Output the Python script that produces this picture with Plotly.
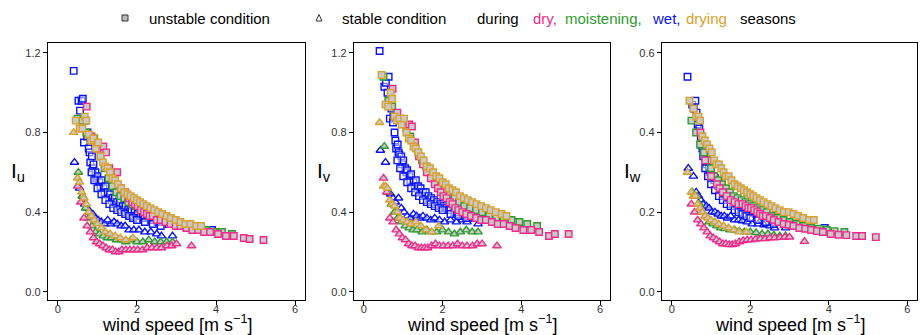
import plotly.graph_objects as go

W, H = 920, 335

# ---------------- data ----------------
# unstable, wet season (blue)
wet_unst_ws = [0.40, 0.52, 0.56, 0.60, 0.63, 0.66, 0.70, 0.74, 0.75, 0.78, 0.80, 0.82, 0.86, 0.88, 0.90, 0.95, 0.97, 1.00, 1.05, 1.08,
               1.10, 1.15, 1.18, 1.20, 1.26, 1.30, 1.32, 1.38, 1.42, 1.44, 1.50, 1.55, 1.57, 1.64, 1.68, 1.71, 1.78, 1.82, 1.86, 1.94,
               1.98, 2.02, 2.10, 2.15, 2.20, 2.30, 2.35, 2.40, 2.52, 2.55, 2.65, 2.80, 3.00, 3.30, 3.90,
               0.85, 0.92, 1.00, 1.10, 1.20, 1.30, 1.40, 1.50, 1.60, 1.70, 1.80, 1.90, 2.00, 2.20, 2.40, 2.60]
wet_unst_Iu = [1.11, 0.96, 0.91, 0.96, 0.97, 0.75, 0.86, 0.78, 0.80, 0.72, 0.70, 0.65, 0.68, 0.62, 0.64, 0.60, 0.57, 0.58, 0.55, 0.53,
               0.56, 0.52, 0.50, 0.53, 0.50, 0.47, 0.49, 0.47, 0.45, 0.47, 0.45, 0.43, 0.45, 0.43, 0.41, 0.43, 0.41, 0.40, 0.41, 0.40,
               0.38, 0.39, 0.38, 0.37, 0.38, 0.37, 0.36, 0.36, 0.35, 0.35, 0.35, 0.34, 0.33, 0.32, 0.31,
               0.60, 0.56, 0.52, 0.49, 0.46, 0.44, 0.42, 0.41, 0.40, 0.39, 0.38, 0.37, 0.36, 0.35, 0.34, 0.33]
wet_unst_Iv = [1.21, 1.03, 1.05, 1.00, 1.08, 0.87, 0.92, 0.85, 0.88, 0.80, 0.76, 0.72, 0.74, 0.70, 0.69, 0.68, 0.64, 0.66, 0.62, 0.60,
               0.61, 0.58, 0.56, 0.59, 0.55, 0.53, 0.56, 0.53, 0.50, 0.52, 0.50, 0.48, 0.50, 0.48, 0.46, 0.47, 0.46, 0.44, 0.45, 0.44,
               0.42, 0.43, 0.42, 0.41, 0.41, 0.40, 0.39, 0.40, 0.39, 0.38, 0.38, 0.37, 0.36, 0.35, 0.35,
               0.66, 0.62, 0.58, 0.55, 0.52, 0.50, 0.48, 0.46, 0.45, 0.44, 0.43, 0.42, 0.41, 0.39, 0.38, 0.37]
wet_unst_Iw = [0.54, 0.47, 0.46, 0.48, 0.45, 0.42, 0.41, 0.39, 0.37, 0.36, 0.34, 0.35, 0.33, 0.32, 0.33, 0.31, 0.30, 0.30, 0.29, 0.28,
               0.285, 0.27, 0.265, 0.27, 0.26, 0.25, 0.255, 0.245, 0.24, 0.24, 0.235, 0.23, 0.23, 0.225, 0.22, 0.22, 0.215, 0.21, 0.21, 0.205,
               0.20, 0.20, 0.198, 0.195, 0.195, 0.19, 0.188, 0.187, 0.183, 0.18, 0.18, 0.177, 0.172, 0.168, 0.16,
               0.31, 0.29, 0.27, 0.255, 0.24, 0.23, 0.22, 0.215, 0.205, 0.20, 0.195, 0.19, 0.185, 0.18, 0.175, 0.17]

# unstable, moistening season (green)
moist_unst_ws = [0.50, 0.62, 0.72, 0.82, 0.92, 1.00, 1.08, 1.18, 1.28, 1.38, 1.48, 1.58, 1.68, 1.78, 1.88, 1.98, 2.08, 2.18, 2.30, 2.42,
                 2.55, 2.70, 2.85, 3.00, 3.18, 3.36, 3.55, 3.75, 3.95, 4.15, 4.40]
moist_unst_Iu = [0.87, 0.86, 0.80, 0.78, 0.77, 0.73, 0.68, 0.62, 0.57, 0.53, 0.50, 0.48, 0.47, 0.45, 0.44, 0.43, 0.42, 0.41, 0.40, 0.39,
                 0.38, 0.37, 0.36, 0.35, 0.34, 0.33, 0.32, 0.31, 0.30, 0.30, 0.29]
moist_unst_Iv = [1.08, 0.96, 0.93, 0.89, 0.87, 0.86, 0.82, 0.78, 0.74, 0.70, 0.66, 0.63, 0.60, 0.57, 0.55, 0.53, 0.51, 0.49, 0.47, 0.45,
                 0.43, 0.42, 0.41, 0.40, 0.38, 0.37, 0.36, 0.36, 0.35, 0.34, 0.33]
moist_unst_Iw = [0.43, 0.40, 0.37, 0.35, 0.33, 0.31, 0.29, 0.28, 0.27, 0.26, 0.25, 0.24, 0.235, 0.23, 0.225, 0.22, 0.215, 0.21, 0.205, 0.20,
                 0.19, 0.185, 0.18, 0.175, 0.17, 0.165, 0.16, 0.158, 0.155, 0.152, 0.15]

# unstable, dry season (pink)
dry_unst_ws = [0.73, 0.85, 1.00, 1.15, 1.22, 1.30, 1.40, 1.50, 1.60, 1.70, 1.80, 1.88, 1.95, 2.02, 2.10, 2.18, 2.25, 2.32, 2.40, 2.50,
               2.60, 2.72, 2.85, 2.98, 3.10, 3.25, 3.40, 3.55, 3.70, 3.85, 4.05, 4.25, 4.45, 4.70, 4.85, 5.20]
dry_unst_Iu = [0.93, 0.78, 0.72, 0.73, 0.70, 0.62, 0.58, 0.60, 0.52, 0.50, 0.47, 0.45, 0.44, 0.43, 0.41, 0.40, 0.39, 0.38, 0.38, 0.36,
               0.36, 0.35, 0.34, 0.33, 0.33, 0.32, 0.31, 0.31, 0.30, 0.30, 0.29, 0.28, 0.28, 0.27, 0.265, 0.26]
dry_unst_Iv = [1.02, 0.90, 0.86, 0.84, 0.83, 0.75, 0.68, 0.64, 0.60, 0.57, 0.54, 0.52, 0.50, 0.48, 0.47, 0.45, 0.44, 0.42, 0.41, 0.40,
               0.39, 0.38, 0.37, 0.36, 0.36, 0.35, 0.34, 0.34, 0.33, 0.32, 0.31, 0.31, 0.30, 0.28, 0.29, 0.29]
dry_unst_Iw = [0.40, 0.33, 0.29, 0.27, 0.26, 0.25, 0.24, 0.23, 0.225, 0.22, 0.22, 0.215, 0.21, 0.21, 0.205, 0.20, 0.195, 0.19, 0.19, 0.185,
               0.18, 0.175, 0.17, 0.168, 0.165, 0.16, 0.158, 0.155, 0.152, 0.15, 0.145, 0.143, 0.142, 0.14, 0.14, 0.137]

# unstable, drying season (gold)
drying_unst_ws = [0.45, 0.55, 0.62, 0.68, 0.72, 0.78, 0.84, 0.90, 0.96, 1.02, 1.08, 1.14, 1.20, 1.26, 1.32, 1.38, 1.45, 1.52, 1.60, 1.68,
                  1.76, 1.84, 1.92, 2.00, 2.08, 2.16, 2.25, 2.34, 2.44, 2.54, 2.64, 2.75, 2.86, 2.98, 3.10, 3.22, 3.35, 3.50, 3.62]
drying_unst_Iu = [0.86, 0.82, 0.82, 0.88, 0.86, 0.79, 0.76, 0.77, 0.72, 0.75, 0.68, 0.65, 0.63, 0.62, 0.60, 0.57, 0.56, 0.54, 0.52, 0.50,
                  0.49, 0.48, 0.47, 0.46, 0.45, 0.44, 0.43, 0.42, 0.41, 0.40, 0.39, 0.38, 0.37, 0.36, 0.35, 0.34, 0.34, 0.33, 0.33]
drying_unst_Iv = [1.09, 0.94, 0.93, 1.00, 0.97, 0.88, 0.86, 0.87, 0.84, 0.87, 0.80, 0.77, 0.76, 0.73, 0.72, 0.70, 0.68, 0.66, 0.63, 0.62,
                  0.60, 0.58, 0.57, 0.55, 0.54, 0.52, 0.51, 0.50, 0.48, 0.47, 0.46, 0.45, 0.44, 0.43, 0.42, 0.41, 0.40, 0.39, 0.38]
drying_unst_Iw = [0.48, 0.46, 0.44, 0.44, 0.43, 0.39, 0.38, 0.37, 0.36, 0.35, 0.33, 0.32, 0.32, 0.31, 0.30, 0.29, 0.29, 0.28, 0.27, 0.265,
                  0.26, 0.255, 0.25, 0.245, 0.24, 0.235, 0.23, 0.225, 0.22, 0.215, 0.21, 0.205, 0.20, 0.20, 0.195, 0.19, 0.185, 0.18, 0.18]

# stable, wet season (blue)
wet_stab_ws = [0.42, 0.55, 0.62, 0.68, 0.74, 0.80, 0.88, 0.95, 1.02, 1.10, 1.18, 1.26, 1.34, 1.42, 1.50, 1.60, 1.70, 1.80, 1.92, 2.05,
               2.20, 2.35, 2.50, 2.62, 2.90]
wet_stab_Iu = [0.65, 0.52, 0.48, 0.44, 0.42, 0.40, 0.39, 0.37, 0.36, 0.35, 0.34, 0.36, 0.34, 0.35, 0.34, 0.33, 0.33, 0.31, 0.31, 0.31,
               0.30, 0.30, 0.29, 0.28, 0.28]
wet_stab_Iv = [0.71, 0.65, 0.50, 0.49, 0.47, 0.45, 0.47, 0.42, 0.40, 0.38, 0.37, 0.39, 0.38, 0.37, 0.38, 0.37, 0.36, 0.37, 0.36, 0.35,
               0.36, 0.35, 0.36, 0.35, 0.34]
wet_stab_Iw = [0.31, 0.29, 0.25, 0.24, 0.23, 0.22, 0.215, 0.21, 0.20, 0.20, 0.195, 0.19, 0.19, 0.185, 0.19, 0.18, 0.18, 0.178, 0.175, 0.17,
               0.17, 0.168, 0.165, 0.16, 0.16]

# stable, moistening season (green)
moist_stab_ws = [0.52, 0.62, 0.70, 0.78, 0.86, 0.95, 1.05, 1.15, 1.25, 1.35, 1.48, 1.60, 1.72, 1.85, 2.00, 2.15, 2.30, 2.45, 2.60, 2.75, 2.90]
moist_stab_Iu = [0.60, 0.48, 0.42, 0.37, 0.33, 0.30, 0.29, 0.28, 0.27, 0.27, 0.26, 0.26, 0.25, 0.26, 0.25, 0.25, 0.26, 0.25, 0.25, 0.25, 0.25]
moist_stab_Iv = [0.73, 0.50, 0.44, 0.40, 0.37, 0.35, 0.33, 0.32, 0.31, 0.31, 0.30, 0.31, 0.30, 0.30, 0.31, 0.30, 0.29, 0.30, 0.31, 0.30, 0.30]
moist_stab_Iw = [0.25, 0.24, 0.22, 0.20, 0.19, 0.175, 0.17, 0.165, 0.16, 0.158, 0.155, 0.155, 0.152, 0.15, 0.15, 0.148, 0.145, 0.145, 0.142, 0.14, 0.14]

# stable, dry season (pink)
dry_stab_ws = [0.50, 0.58, 0.66, 0.74, 0.82, 0.90, 0.98, 1.06, 1.14, 1.22, 1.30, 1.38, 1.46, 1.54, 1.62, 1.72, 1.82, 1.92, 2.02, 2.14,
               2.26, 2.38, 2.50, 2.62, 2.76, 2.88, 3.00, 3.38]
dry_stab_Iu = [0.53, 0.45, 0.37, 0.33, 0.30, 0.27, 0.25, 0.24, 0.23, 0.22, 0.21, 0.21, 0.20, 0.20, 0.21, 0.21, 0.21, 0.21, 0.21, 0.21,
               0.22, 0.22, 0.22, 0.22, 0.23, 0.23, 0.24, 0.23]
dry_stab_Iv = [0.57, 0.50, 0.37, 0.35, 0.31, 0.29, 0.27, 0.26, 0.24, 0.23, 0.23, 0.22, 0.22, 0.22, 0.22, 0.23, 0.24, 0.23, 0.23, 0.23,
               0.23, 0.24, 0.23, 0.23, 0.23, 0.24, 0.24, 0.23]
dry_stab_Iw = [0.22, 0.20, 0.18, 0.17, 0.16, 0.15, 0.14, 0.135, 0.13, 0.125, 0.12, 0.12, 0.118, 0.118, 0.12, 0.125, 0.128, 0.13, 0.13, 0.132,
               0.133, 0.133, 0.135, 0.135, 0.136, 0.137, 0.137, 0.126]

# stable, drying season (gold)
drying_stab_ws = [0.40, 0.50, 0.55, 0.60, 0.66, 0.72, 0.78, 0.85, 0.92, 1.00, 1.10, 1.20, 1.32, 1.45, 1.58, 1.72, 1.90]
drying_stab_Iu = [0.80, 0.57, 0.55, 0.50, 0.47, 0.44, 0.40, 0.38, 0.36, 0.34, 0.32, 0.30, 0.29, 0.28, 0.27, 0.26, 0.27]
drying_stab_Iv = [0.85, 0.53, 0.53, 0.52, 0.46, 0.44, 0.43, 0.40, 0.37, 0.36, 0.35, 0.34, 0.35, 0.33, 0.31, 0.30, 0.33]
drying_stab_Iw = [0.30, 0.25, 0.24, 0.24, 0.22, 0.21, 0.20, 0.19, 0.185, 0.18, 0.175, 0.17, 0.165, 0.16, 0.155, 0.15, 0.15]

x_ticks = [0, 2, 4, 6]
panel_labels = ["u", "v", "w"]
season_words = ["dry,", "moistening,", "wet,", "drying"]

# ---------------- styling ----------------
C_BLUE = "#0a14f0"
C_GREEN = "#2e9a2e"
C_PINK = "#f02a8c"
C_GOLD = "#d9a02a"
GRAY = "#c9c9c9"
FONT = "Liberation Sans, Arial, sans-serif"

series = [
    # (ws, [Iu, Iv, Iw], colour, fill, symbol)
    (wet_stab_ws, [wet_stab_Iu, wet_stab_Iv, wet_stab_Iw], C_BLUE, "rgba(255,255,255,0.5)", "triangle-up"),
    (wet_unst_ws, [wet_unst_Iu, wet_unst_Iv, wet_unst_Iw], C_BLUE, "rgba(255,255,255,0.5)", "square"),
    (moist_stab_ws, [moist_stab_Iu, moist_stab_Iv, moist_stab_Iw], C_GREEN, GRAY, "triangle-up"),
    (moist_unst_ws, [moist_unst_Iu, moist_unst_Iv, moist_unst_Iw], C_GREEN, GRAY, "square"),
    (dry_stab_ws, [dry_stab_Iu, dry_stab_Iv, dry_stab_Iw], C_PINK, GRAY, "triangle-up"),
    (dry_unst_ws, [dry_unst_Iu, dry_unst_Iv, dry_unst_Iw], C_PINK, GRAY, "square"),
    (drying_stab_ws, [drying_stab_Iu, drying_stab_Iv, drying_stab_Iw], C_GOLD, GRAY, "triangle-up"),
    (drying_unst_ws, [drying_unst_Iu, drying_unst_Iv, drying_unst_Iw], C_GOLD, GRAY, "square"),
]

fig = go.Figure()

# panel pixel geometry
px_left = [48, 354, 662]
px_right = [305, 610, 917]
top_px, bot_px = 43, 300
y_ranges = [[-0.042, 1.25], [-0.042, 1.25], [-0.021, 0.625]]
y_dticks = [0.4, 0.4, 0.2]

for p in range(3):
    xa = "x" if p == 0 else f"x{p+1}"
    ya = "y" if p == 0 else f"y{p+1}"
    for ws, ys, col, fill, sym in series:
        fig.add_trace(go.Scatter(
            x=ws, y=ys[p], mode="markers", xaxis=xa, yaxis=ya, showlegend=False,
            hoverinfo="skip",
            marker=dict(symbol=sym, size=6.5 if sym == "square" else 7.5, color=fill,
                        line=dict(color=col, width=1.4)),
        ))
    ax_common = dict(showline=True, linecolor="black", linewidth=1.3, mirror=True,
                     ticks="outside", ticklen=4, tickwidth=1, tickcolor="black",
                     showgrid=False, zeroline=False, automargin=False,
                     tickfont=dict(family=FONT, size=11, color="#333333"))
    fig.update_layout(**{
        ("xaxis" if p == 0 else f"xaxis{p+1}"): dict(
            domain=[px_left[p] / W, px_right[p] / W], range=[-0.25, 6.25],
            tickvals=x_ticks, anchor=ya, ticklabelstandoff=-5, **ax_common),
        ("yaxis" if p == 0 else f"yaxis{p+1}"): dict(
            domain=[(H - bot_px) / H, (H - top_px) / H], range=y_ranges[p],
            dtick=y_dticks[p], tick0=0, tickformat=".1f", anchor=xa, **ax_common),
    })
    cx = (px_left[p] + px_right[p]) / 2
    fig.add_annotation(x=cx / W, y=1 - 323 / H, xref="paper", yref="paper",
                       text="wind speed [m s<sup>−1</sup>]", showarrow=False,
                       xanchor="center", yanchor="middle",
                       font=dict(family=FONT, size=18, color="black"))
    fig.add_annotation(x=(px_left[p] - 30) / W, y=1 - 172 / H, xref="paper", yref="paper",
                       text=f"I<sub>{panel_labels[p]}</sub>", showarrow=False,
                       xanchor="center", yanchor="middle",
                       font=dict(family=FONT, size=21, color="black"))

# ---------------- header legend ----------------
leg_y = 1 - 18 / H
fig.add_shape(type="rect", xref="paper", yref="paper",
              x0=122 / W, x1=128 / W, y0=1 - 21 / H, y1=1 - 15 / H,
              fillcolor="#bbbbbb", line=dict(color="#333333", width=1))
fig.add_shape(type="path", xref="paper", yref="paper",
              path=f"M {316/W} {1-21/H} L {322/W} {1-21/H} L {319/W} {1-14.5/H} Z",
              fillcolor="rgba(0,0,0,0)", line=dict(color="#333333", width=1))
pieces = [
    ("unstable condition", 147, "black"),
    ("stable condition", 340, "black"),
    ("during", 475, "black"),
    (season_words[0], 531, C_PINK),
    (season_words[1], 563, C_GREEN),
    (season_words[2], 650, C_BLUE),
    (season_words[3], 684, C_GOLD),
    ("seasons", 738, "black"),
]
for txt, xp, col in pieces:
    fig.add_annotation(x=xp / W, y=leg_y, xref="paper", yref="paper", xanchor="left",
                       yanchor="middle", text=txt, showarrow=False,
                       font=dict(family=FONT, size=15, color=col))

fig.update_layout(width=W, height=H, margin=dict(l=0, r=0, t=0, b=0),
                  paper_bgcolor="white", plot_bgcolor="white", hovermode=False)

fig.write_html("out.html", config={"displayModeBar": False},
               post_script="document.body.style.margin='0';document.body.style.overflow='hidden';")
